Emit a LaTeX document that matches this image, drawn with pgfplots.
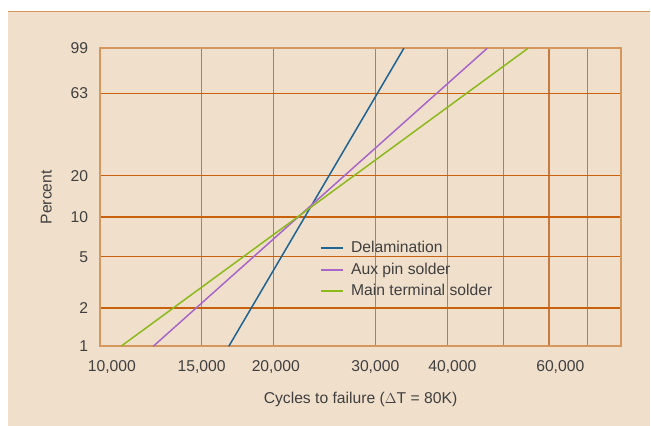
\documentclass[border=0pt]{standalone}
\usepackage{pgfplots}
\pgfplotsset{compat=1.18}
\usepackage{fontspec}
\setmainfont{Liberation Sans}
\definecolor{bg}{HTML}{F0DFCB}
\definecolor{topline}{HTML}{D4945A}
\definecolor{hgrid}{HTML}{C8600E}
\definecolor{vgrid}{HTML}{C87A3E}
\definecolor{framec}{HTML}{D6975F}
\definecolor{txt}{HTML}{404040}
\definecolor{cblue}{HTML}{1D6394}
\definecolor{cpurple}{HTML}{A866C8}
\definecolor{cgreen}{HTML}{8CB91C}
\begin{document}
\fontsize{15.7}{18}\selectfont
\begin{tikzpicture}[x=1pt,y=1pt]
\fill[bg] (-92,-79.3) rectangle (551,335);
\draw[topline, line width=1.3pt] (-92,335) -- (551,335);
\useasboundingbox (-100,-79.3) rectangle (551,346.7);
\begin{axis}[
  at={(0,0)}, anchor=south west,
  scale only axis, width=521.7pt, height=298.4pt,
  xmode=log, xmin=10000, xmax=80000,
  ymin=-4.6001, ymax=0.82,
  axis line style={framec, line width=1.8pt},
  grid=major,
  x grid style={vgrid, line width=1.3pt},
  y grid style={hgrid, line width=1.3pt},
  major tick length=0pt,
  xtick={10000,15000,20000,30000,40000,50000,60000,70000,80000},
  xticklabels={,,,,,,,,},
  extra x ticks={10490,15000,20168,30000,40805,62764},
  extra x tick labels={10{,}000,15{,}000,20{,}000,30{,}000,40{,}000,60{,}000},
  extra x tick style={grid=none, major tick length=0pt},
  ytick={-4.6001,-3.9019,-2.9702,-2.2504,-1.4999,0,0.82},
  yticklabels={1,2,5,10,20,63,99},
  tick label style={font=\fontsize{15.7}{18}\selectfont, text=txt},
  /pgf/number format/assume math mode=true,
  xticklabel style={anchor=base, inner sep=0pt, yshift=-25pt},
  yticklabel style={anchor=east, inner sep=0pt, xshift=-11.7pt},
  xlabel={Cycles to failure ($\Delta$T = 80K)},
  ylabel={Percent},
  label style={font=\fontsize{15.7}{18}\selectfont, text=txt},
  x label style={at={([yshift=-57.3pt]axis description cs:0.5,0)}, anchor=base, inner sep=0pt},
  y label style={at={([xshift=-48.3pt]axis description cs:0,0.5)}, anchor=base, inner sep=0pt, rotate=0},
  legend style={draw=none, fill=none, at={(0.416,0.366)}, anchor=north west,
    font=\fontsize{15.7}{18}\selectfont, text=txt,
    row sep=3.7pt, column sep=5.5pt},
  legend cell align=left,
  legend image code/.code={\draw[#1, line width=1.7pt] (0pt,0pt) -- (22pt,0pt);},
]
\addplot[cblue, line width=1.5pt] coordinates {(16722,-4.6001) (33630,0.82)};
\addlegendentry{Delamination}
\addplot[cpurple, line width=1.5pt] coordinates {(12367,-4.6001) (46895,0.82)};
\addlegendentry{Aux pin solder}
\addplot[cgreen, line width=1.5pt] coordinates {(10873,-4.6001) (55200,0.82)};
\addlegendentry{Main terminal solder}
\end{axis}
\end{tikzpicture}
\end{document}
